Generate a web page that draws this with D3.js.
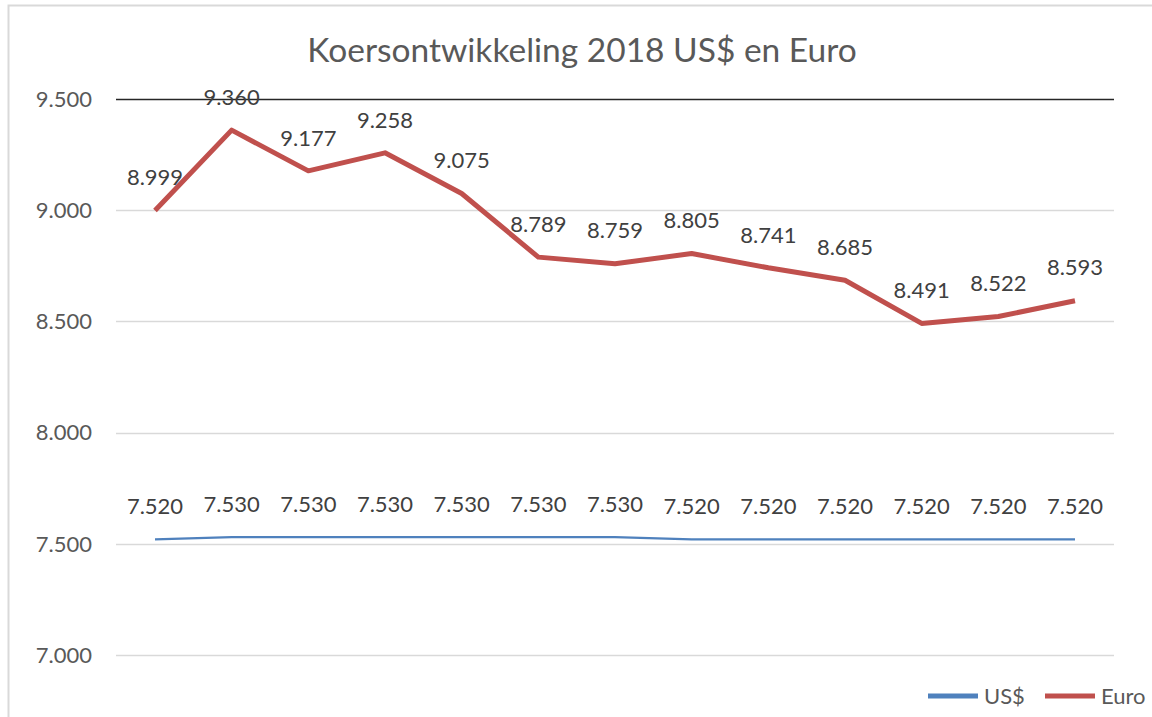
<!DOCTYPE html>
<html>
<head>
<meta charset="utf-8">
<script src="https://cdn.jsdelivr.net/npm/d3@7"></script>
<style>
  body { margin: 0; background: #fff; }
  text { font-family: Lato, "Open Sans", sans-serif; }
</style>
</head>
<body>
<div id="chart"></div>
<script>
var width = 1152,
    height = 717;

// data
var periods = ["1","2","3","4","5","6","7","8","9","10","11","12","13"];
var usd  = [7.520, 7.530, 7.530, 7.530, 7.530, 7.530, 7.530, 7.520, 7.520, 7.520, 7.520, 7.520, 7.520];
var euro = [8.999, 9.360, 9.177, 9.258, 9.075, 8.789, 8.759, 8.805, 8.741, 8.685, 8.491, 8.522, 8.593];
var yTicks = [7.0, 7.5, 8.0, 8.5, 9.0, 9.5];
var seriesNames = ["US$", "Euro"];
var colors = ["#4F81BD", "#C0504D"];

var fmt = d3.format(".3f");

var svg = d3.select("#chart").append("svg")
    .attr("width", width)
    .attr("height", height);

// chart border
svg.append("rect")
    .attr("x", 8.5)
    .attr("y", 5.5)
    .attr("width", width + 20)
    .attr("height", height + 20)
    .attr("fill", "#fff")
    .attr("stroke", "#d9d9d9")
    .attr("stroke-width", 2);

var x = d3.scalePoint()
    .domain(periods)
    .range([155, 1075]);

var y = d3.scaleLinear()
    .domain([7.0, 9.5])
    .range([655, 99]);

// title
svg.append("text")
    .attr("x", 582)
    .attr("y", 62)
    .attr("text-anchor", "middle")
    .attr("font-size", 33.5)
    .attr("fill", "#595959")
    .text("Koersontwikkeling 2018 US$ en Euro");

// gridlines
svg.append("g")
    .selectAll("line")
    .data(yTicks)
    .enter().append("line")
    .attr("x1", 116)
    .attr("x2", 1114)
    .attr("y1", function(d) { return Math.round(y(d)) + 0.5; })
    .attr("y2", function(d) { return Math.round(y(d)) + 0.5; })
    .attr("stroke", function(d) { return d === 9.5 ? "#262626" : "#d9d9d9"; })
    .attr("stroke-width", 1.5);

// y tick labels
svg.append("g")
    .selectAll("text")
    .data(yTicks)
    .enter().append("text")
    .attr("x", 92)
    .attr("y", function(d) { return y(d); })
    .attr("dy", "0.35em")
    .attr("text-anchor", "end")
    .attr("font-size", 22)
    .attr("fill", "#595959")
    .text(function(d) { return fmt(d); });

var line = d3.line()
    .x(function(d, i) { return x(periods[i]); })
    .y(function(d) { return y(d); });

// US$ line
svg.append("path")
    .datum(usd)
    .attr("d", line)
    .attr("fill", "none")
    .attr("stroke", colors[0])
    .attr("stroke-width", 2.2);

// Euro line
svg.append("path")
    .datum(euro)
    .attr("d", line)
    .attr("fill", "none")
    .attr("stroke", colors[1])
    .attr("stroke-width", 5)
    .attr("stroke-linejoin", "round");

// data labels
function labels(data) {
    svg.append("g")
        .selectAll("text")
        .data(data)
        .enter().append("text")
        .attr("x", function(d, i) { return x(periods[i]); })
        .attr("y", function(d) { return y(d) - 33; })
        .attr("dy", "0.35em")
        .attr("text-anchor", "middle")
        .attr("font-size", 22)
        .attr("fill", "#404040")
        .text(function(d) { return fmt(d); });
}
labels(usd);
labels(euro);

// legend
function legend(lx, ly, text, color) {
    svg.append("line")
        .attr("x1", lx)
        .attr("x2", lx + 50)
        .attr("y1", ly)
        .attr("y2", ly)
        .attr("stroke", color)
        .attr("stroke-width", 5);
    svg.append("text")
        .attr("x", lx + 56)
        .attr("y", ly)
        .attr("dy", "0.35em")
        .attr("font-size", 22)
        .attr("fill", "#595959")
        .text(text);
}
legend(928, 696, seriesNames[0], colors[0]);
legend(1045, 696, seriesNames[1], colors[1]);
</script>
</body>
</html>
